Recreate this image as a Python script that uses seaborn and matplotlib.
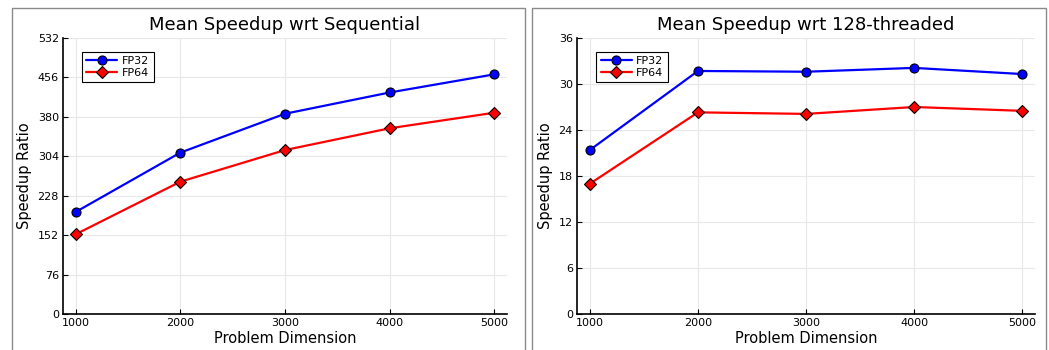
import pandas as pd
import numpy as np
import matplotlib
matplotlib.use('Agg')
import matplotlib.pyplot as plt
import seaborn as sns
from matplotlib.patches import Rectangle

# data
dims = [1000, 2000, 3000, 4000, 5000]
seq_fp32 = [196.5, 311, 386, 427, 462]
seq_fp64 = [153.5, 255, 316, 358, 388]
thr_fp32 = [21.4, 31.7, 31.6, 32.1, 31.3]
thr_fp64 = [17.0, 26.3, 26.1, 27.0, 26.5]

seq_ticks = [0, 76, 152, 228, 304, 380, 456, 532]
thr_ticks = [0, 6, 12, 18, 24, 30, 36]


def make_df(fp32, fp64):
    return pd.DataFrame({
        'dim': dims * 2,
        'speedup': fp32 + fp64,
        'precision': ['FP32'] * len(dims) + ['FP64'] * len(dims),
    })


sns.set_theme(style='white')
plt.rcParams['font.family'] = ['DejaVu Sans']
plt.rcParams['text.color'] = 'black'
plt.rcParams['axes.labelcolor'] = 'black'

fig = plt.figure(figsize=(10.49, 3.5), dpi=100)

# gray panel frames like the original layout
fig.patches.append(Rectangle((12 / 1049, -0.05), 513 / 1049, 1.05 - 8 / 350,
                             transform=fig.transFigure, fill=False,
                             edgecolor='#8a8a8a', linewidth=1.0))
fig.patches.append(Rectangle((532 / 1049, -0.05), 514 / 1049, 1.05 - 8 / 350,
                             transform=fig.transFigure, fill=False,
                             edgecolor='#8a8a8a', linewidth=1.0))

ax1 = fig.add_axes([63 / 1049, 36 / 350, 444 / 1049, 276 / 350])
ax2 = fig.add_axes([577 / 1049, 36 / 350, 458 / 1049, 276 / 350])

panels = [
    (ax1, make_df(seq_fp32, seq_fp64), 'Mean Speedup wrt Sequential', seq_ticks),
    (ax2, make_df(thr_fp32, thr_fp64), 'Mean Speedup wrt 128-threaded', thr_ticks),
]

for ax, df, title, yt in panels:
    sns.lineplot(data=df, x='dim', y='speedup', hue='precision', style='precision',
                 palette={'FP32': '#0000ff', 'FP64': '#ff0000'},
                 markers={'FP32': 'o', 'FP64': 'D'}, dashes=False,
                 linewidth=1.6, markersize=6.5, markeredgecolor='black',
                 markeredgewidth=0.8, ax=ax)
    ax.set_xlim(880, 5120)
    ax.set_ylim(yt[0], yt[-1])
    ax.set_xticks(dims)
    ax.set_yticks(yt)
    ax.tick_params(axis='both', direction='in', length=3.5, width=0.8,
                   labelsize=8, colors='black', pad=3, left=True, bottom=True)
    ax.grid(True, color='#e8e8e8', linewidth=0.8)
    for s in ['top', 'right']:
        ax.spines[s].set_visible(False)
    for s in ['left', 'bottom']:
        ax.spines[s].set_color('black')
        ax.spines[s].set_linewidth(1.2)
    ax.set_title(title, fontsize=13, pad=6, color='black')
    ax.set_xlabel('Problem Dimension', fontsize=10.5, labelpad=2)
    ax.set_ylabel('Speedup Ratio', fontsize=10.5, labelpad=4)
    leg = ax.legend(loc='upper left', bbox_to_anchor=(0.03, 0.97), fontsize=8,
                    frameon=True, fancybox=False, edgecolor='black',
                    framealpha=1, handlelength=2.8, borderpad=0.4,
                    labelspacing=0.15, handletextpad=0.4)
    leg.get_frame().set_linewidth(0.8)
    for t in leg.get_texts():
        t.set_color('black')

fig.savefig('out.png', dpi=100)
